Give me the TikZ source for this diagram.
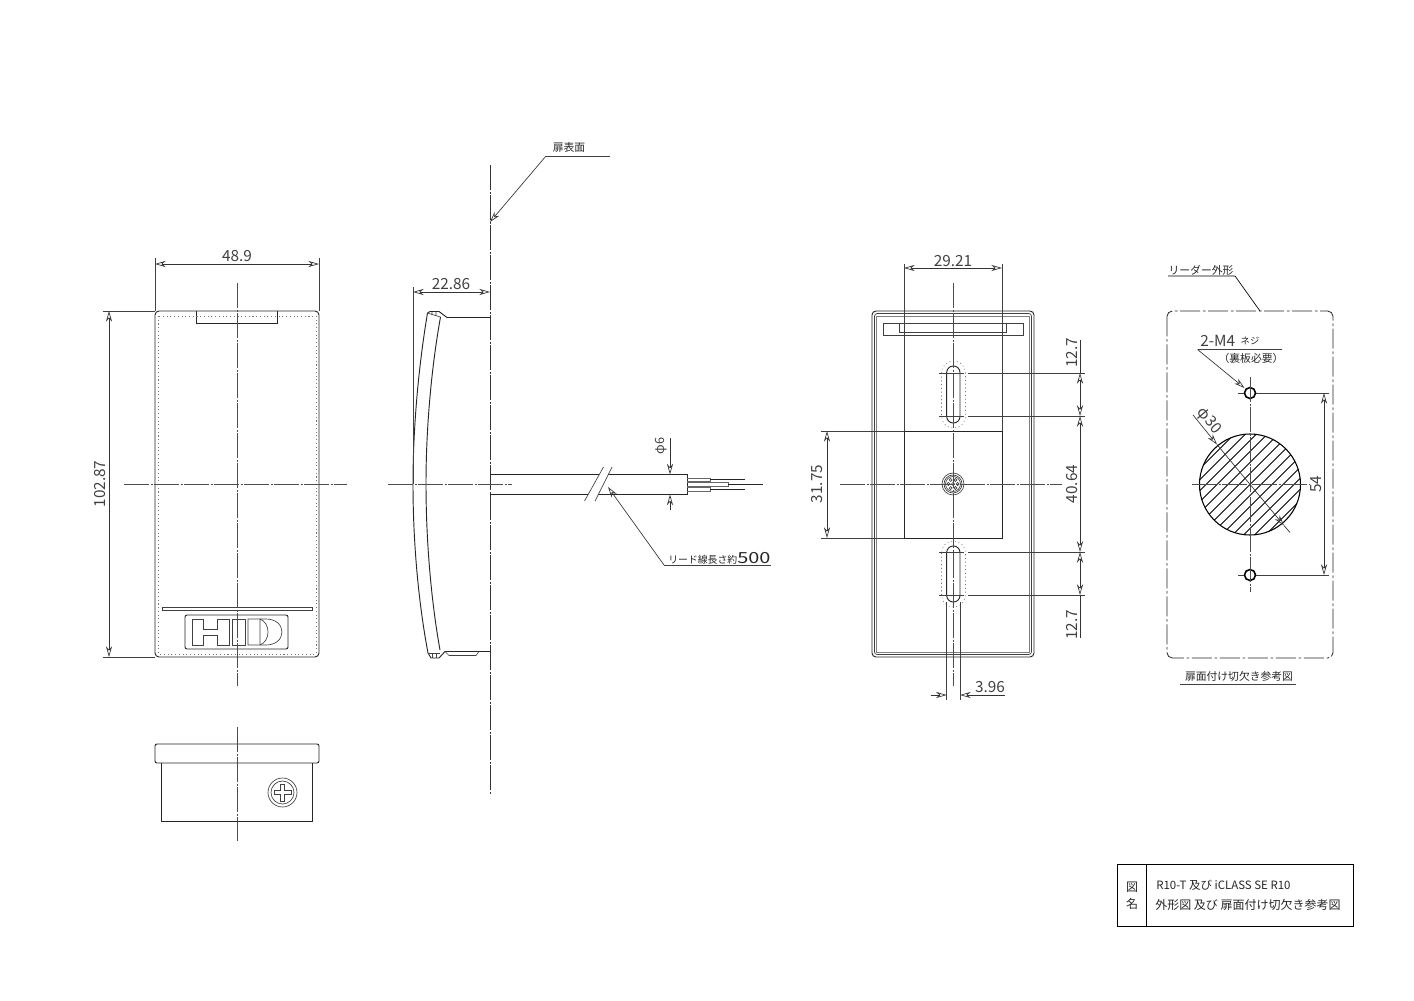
\documentclass[tikz,border=0pt]{standalone}
\usepackage{fontspec}
\setmainfont{Noto Sans CJK JP}
\usetikzlibrary{arrows.meta}
\tikzset{
  outline/.style={draw=black!85,line width=0.7pt},
  thinline/.style={draw=black!75,line width=0.5pt},
  centerline/.style={draw=black!70,line width=0.6pt,dash pattern=on 19pt off 1pt on 1.5pt off 1pt},
  hiddenline/.style={draw=black!55,line width=0.4pt,dash pattern=on 0.8pt off 2pt},
  dimline/.style={draw=black!80,line width=0.5pt,>={Stealth[open,length=8pt,width=4.6pt,inset=2.5pt]}},
  dimtext/.style={inner sep=0pt,font=\fontsize{11.5pt}{13pt}\selectfont,text=black!75},
  smalltext/.style={inner sep=0pt,font=\fontsize{8.1pt}{10pt}\selectfont,text=black!85},
  titletext/.style={inner sep=0pt,font=\fontsize{9pt}{11pt}\selectfont,text=black!85,anchor=west}
}
\begin{document}
\begin{tikzpicture}[x=0.75pt,y=-0.75pt]
\useasboundingbox (0,0) rectangle (1414,1000);

% front view
\draw[outline,rounded corners=3pt] (155,311) rectangle (319,657);
\draw[outline] (196,311) -- (196,323) -- (277,323) -- (277,311);
\draw[hiddenline] (158.5,316) rectangle (316,654);
\draw[thinline] (162,607) rectangle (312,610);
\draw[outline,rounded corners=1.5pt] (185,615) rectangle (288,649);
\draw[thinline] (192,619) -- (203,619) -- (203,629.5) -- (217.5,629.5) -- (217.5,619) -- (229,619)
  -- (229,645) -- (217.5,645) -- (217.5,635) -- (203,635) -- (203,645) -- (192,645) -- cycle;
\draw[thinline] (232,619) rectangle (245,645);
\draw[thinline] (248,619) -- (266,619) .. controls (276,619) and (282,625) .. (282,632)
  .. controls (282,639) and (276,645) .. (266,645) -- (248,645) -- cycle;
\draw[thinline] (260,619) -- (260,645) (260,619) .. controls (265,621) and (268,626) .. (268,632)
  .. controls (268,638) and (265,643) .. (260,645);
\draw[centerline] (237,283) -- (237,686);
\draw[centerline] (124,484) -- (347,484);

\draw[thinline] (155,258) -- (155,311) (319,258) -- (319,311);
\draw[dimline,<->] (155,264) -- (319,264);
\node[dimtext] (w489) at (237,256) {48.9};
\draw[thinline] (103,311) -- (155,311) (103,657) -- (155,657);
\draw[dimline,<->] (109,311) -- (109,657);
\node[dimtext,rotate=90] (h10287) at (100,484) {102.87};

% bottom view
\draw[outline,rounded corners=1.5pt] (155,744) rectangle (319,763);
\draw[outline] (161,763) -- (161,821) -- (312.5,821) -- (312.5,763);
\draw[thinline] (282.5,792.5) circle (14.5);
\draw[thinline] (282.5,792.5) circle (11.5);
\draw[thinline] (280.5,784) -- (284.5,784) -- (284.5,790.5) -- (291,790.5) -- (291,794.5) -- (284.5,794.5)
  -- (284.5,801) -- (280.5,801) -- (280.5,794.5) -- (274,794.5) -- (274,790.5) -- (280.5,790.5) -- cycle;
\draw[centerline] (237,727) -- (237,841);

% side view
\draw[centerline,line width=0.7pt,draw=black!80] (490,165) -- (490,795);
\draw[outline] (427.5,313) .. controls (418,370) and (413,430) .. (413,484)
  .. controls (413,540) and (418,600) .. (428,653);
\draw[outline] (440.5,317) .. controls (431,370) and (426,430) .. (426,484)
  .. controls (426,540) and (431,600) .. (440,650);
\draw[outline] (427.5,313) -- (430,311.5) -- (439,311.5) -- (447,317.5) -- (490,317.5);
\draw[thinline] (427.5,313) -- (440.5,317) (432,312) -- (432,315) (436,312) -- (436,316);
\draw[outline] (428,653) -- (431,658) -- (439,658) -- (445,651.5) -- (490,651.5);
\draw[thinline] (428,653) -- (440,653) (432,653) -- (432,658) (436,653) -- (436,658);
\draw[thinline] (445,651.5) -- (449,655.5) -- (476,655.5) -- (479,651.5);
\draw[centerline] (388,484) -- (512,484);

\draw[thinline] (413,287) -- (413,484);
\draw[dimline,<->] (413,292) -- (490,292);
\node[dimtext] (d2286) at (451,284) {22.86};

\node[smalltext] (doorface) at (569,147) {扉表面};
\coordinate (doortip) at (490,222);
\draw[thinline] (610,156) -- (546,156);
\draw[dimline,->] (546,156) -- (doortip);

% cable
\draw[outline] (490,474.5) -- (599,474.5) (490,494.5) -- (588,494.5);
\draw[outline] (608,474.5) -- (687,474.5) -- (687,494.5) -- (598,494.5);
\draw[thinline] (603.5,467) -- (584.5,501) (612,467) -- (595,501);
\draw[thinline,draw=black!60] (687,478) -- (710,478) -- (710,481.5) -- (687,481.5);
\draw[thinline,draw=black!60] (687,482) -- (728,482) -- (728,486.5) -- (687,486.5);
\draw[thinline,draw=black!60] (687,487) -- (710,487) -- (710,491) -- (687,491);
\draw[outline] (710,479) -- (745,479) (728,484) -- (763,484) (710,489) -- (745,489);

\draw[dimline,->] (670,438) -- (670,474.5);
\draw[dimline,->] (670,510) -- (670,494.5);
\node[dimtext,font=\fontsize{9.5pt}{11pt}\selectfont,rotate=90] (dia6) at (661,446) {φ6};
\coordinate (cabletip) at (608,487);
\draw[thinline] (771,565) -- (664,565);
\draw[dimline,->] (664,565) -- (cabletip);
\node[smalltext,font=\fontsize{7.4pt}{9pt}\selectfont,anchor=base west] (leadlen) at (668,563) {リード線長さ約{\fontsize{11.5pt}{13pt}\selectfont\scalebox{1.3}[1]{500}}};

% back view
\draw[outline,rounded corners=3pt] (872,311) rectangle (1034,657);
\draw[thinline,rounded corners=2pt] (874.5,313.5) rectangle (1031.5,654.5);
\draw[thinline,draw=black!50,line width=0.8pt] (876.5,316.5) rectangle (1029.5,652.5);
\draw[thinline] (883,323) rectangle (1023.5,335.5);
\draw[thinline] (899.5,323) -- (899.5,332) -- (1006.5,332) -- (1006.5,323);
\draw[outline,rounded corners=4.9pt] (946.7,366) rectangle (960,423);
\draw[outline,rounded corners=4.9pt] (946.7,546) rectangle (960,602);
\draw[hiddenline,rounded corners=8.9pt] (941.5,361) rectangle (965.5,428);
\draw[hiddenline,rounded corners=8.9pt] (941.5,541) rectangle (965.5,607);
\draw[outline] (904,431) rectangle (1002,538);
\draw[thinline] (953,484) circle (11);
\draw[thinline] (953,484) circle (9);
\draw[thinline] (953,484) circle (7.5);
\foreach \a in {0,60,...,300}
  \draw[thinline] (953,484) ++(\a:4.7) circle (1.5);
\draw[thinline] (953,484) circle (1.5);
\draw[centerline] (953,283) -- (953,686);
\draw[centerline] (840,484) -- (1062,484);

\draw[thinline] (904,264) -- (904,431) (1002,264) -- (1002,431);
\draw[dimline,<->] (904,268) -- (1002,268);
\node[dimtext] (w2921) at (953,261) {29.21};
\draw[thinline] (821,431) -- (904,431) (821,538) -- (904,538);
\draw[dimline,<->] (827,431) -- (827,538);
\node[dimtext,rotate=90] (h3175) at (817,484) {31.75};

\draw[thinline] (939,373) -- (964,373) (968,373) -- (1085,373);
\draw[thinline] (939,416) -- (964,416) (968,416) -- (1085,416);
\draw[thinline] (939,552) -- (964,552) (968,552) -- (1085,552);
\draw[thinline] (939,595) -- (964,595) (968,595) -- (1085,595);
\draw[dimline] (1080,340) -- (1080,373);
\draw[dimline,<->] (1080,373) -- (1080,416);
\draw[dimline,<->] (1080,416) -- (1080,552);
\draw[dimline,<->] (1080,552) -- (1080,595);
\draw[dimline] (1080,595) -- (1080,638);
\node[dimtext,rotate=90] (s127a) at (1072,353) {12.7};
\node[dimtext,rotate=90] (h4064) at (1072,484) {40.64};
\node[dimtext,rotate=90] (s127b) at (1072,625) {12.7};

\draw[thinline] (946.7,602) -- (946.7,700) (960,602) -- (960,700);
\draw[dimline,->] (930.5,695) -- (946.7,695);
\draw[dimline,->] (1005,695) -- (960,695);
\node[dimtext] (w396) at (990,687) {3.96};

% door cutout
\draw[centerline,draw=black!85,dash pattern=on 15pt off 2pt on 2pt off 2pt,rounded corners=4pt] (1167,311) rectangle (1333,658);
\node[smalltext] (outline) at (1201,270) {リーダー外形};
\coordinate (outlinetip) at (1260,311);
\draw[thinline,draw=black] (1168,276) -- (1235,276) -- (outlinetip);

\draw[draw=black,line width=1.2pt] (1250,393) circle (5.5);
\draw[draw=black,line width=1.2pt] (1250,575) circle (5.5);
\begin{scope}
  \clip (1250,484.5) circle (50.5);
  \foreach \d in {-154,-143,...,154}
    \draw[draw=black,line width=0.6pt] (1250+\d-80,484.5+80) -- (1250+\d+80,484.5-80);
\end{scope}
\draw[draw=black,line width=0.8pt] (1250,484.5) circle (50.5);
\draw[centerline] (1250,377) -- (1250,592);
\draw[centerline] (1192,484.5) -- (1310,484.5);
\draw[thinline] (1238,393) -- (1244,393) (1238,575) -- (1244,575);

\coordinate (bigtipa) at (1217,444.5);
\coordinate (bigtipb) at (1284,525.5);
\draw[dimline,->] (1193,415) -- (bigtipa);
\draw[dimline,<-] (bigtipb) -- (bigtipa);
\draw[dimline] (bigtipb) -- (1290,532.5);
\node[dimtext,rotate=-50] (dia30) at (1209,421) {φ30};

\coordinate (holetip) at (1244.5,388);
\draw[thinline] (1282,349.5) -- (1197.5,349.5);
\draw[dimline,->] (1197.5,349.5) -- (holetip);
\node[dimtext,anchor=base west] (m4) at (1200,346) {2-M4};
\node[smalltext,font=\fontsize{7pt}{8pt}\selectfont] (neji) at (1250,341) {ネジ};
\node[smalltext] (backplate) at (1251,358) {（裏板必要）};

\draw[thinline] (1256,393) -- (1329,393) (1256,575) -- (1329,575);
\draw[dimline,<->] (1324,393) -- (1324,575);
\node[dimtext,rotate=90] (d54) at (1316,484) {54};

\node[smalltext] (cutcap) at (1239,676) {扉面付け切欠き参考図};
\draw[thinline] (1180,684) -- (1296,684);

% title box
\draw[draw=black,line width=0.6pt] (1117,864) rectangle (1353,926);
\draw[draw=black,line width=0.6pt] (1146,864) -- (1146,926);
\node[titletext,anchor=center] (figa) at (1132,887) {図};
\node[titletext,anchor=center] (figb) at (1132,904) {名};
\node[titletext,font=\fontsize{8.6pt}{10pt}\selectfont] (titlea) at (1156,885) {R10-T 及び iCLASS SE R10};
\node[titletext] (titleb) at (1155,905) {外形図 及び 扉面付け切欠き参考図};
\end{tikzpicture}
\end{document}
